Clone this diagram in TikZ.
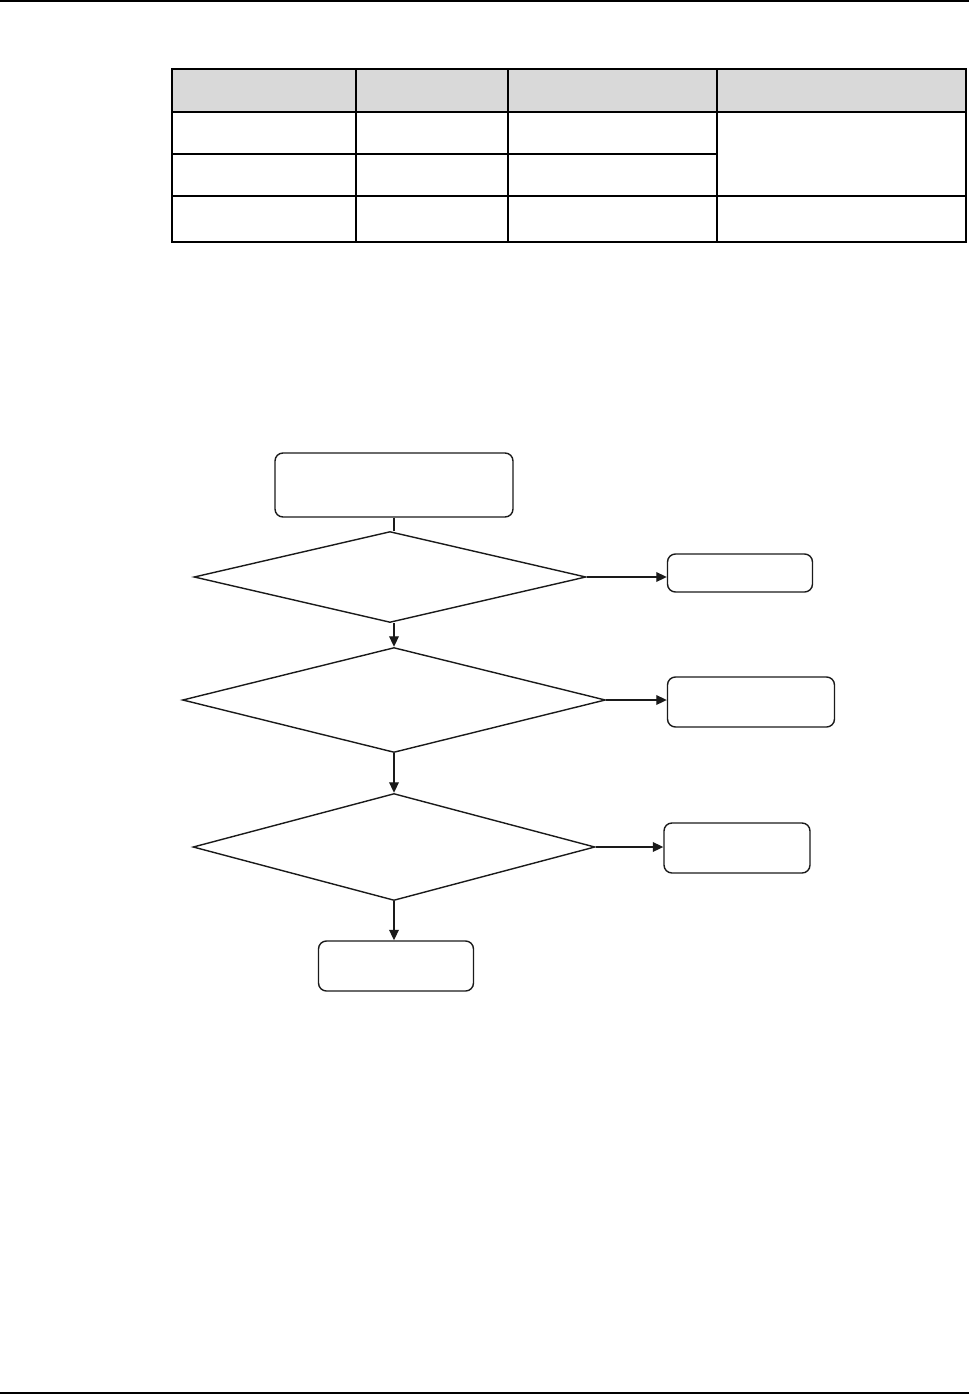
\documentclass[tikz,border=0pt]{standalone}
\usetikzlibrary{positioning, arrows.meta, shapes.geometric}
\definecolor{tblHead}{HTML}{D9D9D9}
\definecolor{flowLine}{HTML}{1A1A1A}

\begin{document}
\begin{tikzpicture}[x=0.02cm, y=-0.02cm, line width=0.8pt,
    stepbox/.style={draw=flowLine, rounded corners=4.5pt, inner sep=0pt},
    checkbox/.style={draw=flowLine, diamond, inner sep=0pt},
    flowarrow/.style={-{Triangle[length=6pt, width=5.5pt]}, flowLine}]
    \useasboundingbox (0,0) rectangle (969,1395);
    % page rules
    \draw[line width=1.2pt] (0,1) -- (969,1);
    \draw[line width=1.2pt] (0,1393) -- (969,1393);
    % table
    \fill[tblHead] (172,69) rectangle (966,112);
    \draw[line width=1pt] (172,112) -- (966,112);
    \draw[line width=1pt] (172,154) -- (717,154);
    \draw[line width=0.6pt] (172,196) -- (966,196);
    \draw[line width=1.1pt] (356,69) -- (356,242);
    \draw[line width=0.7pt] (508,69) -- (508,242);
    \draw[line width=1.1pt] (717,69) -- (717,242);
    \draw[line width=1.6pt] (172,69) rectangle (966,242);
    % flow
    \node[stepbox, minimum width=4.76cm, minimum height=1.28cm] (start) at (394,485) {};
    \node[checkbox, minimum width=7.84cm, minimum height=1.82cm] (d1) at (390,577) {};
    \node[stepbox, minimum width=2.9cm, minimum height=0.76cm] (r1) at (740,573) {};
    \node[checkbox, minimum width=8.46cm, minimum height=2.10cm] (d2) at (394,700) {};
    \node[stepbox, minimum width=3.34cm, minimum height=1.0cm] (r2) at (751,702) {};
    \node[checkbox, minimum width=8.04cm, minimum height=2.14cm] (d3) at (394,847) {};
    \node[stepbox, minimum width=2.92cm, minimum height=1.0cm] (r3) at (737,848) {};
    \node[stepbox, minimum width=3.1cm, minimum height=1.0cm] (stop) at (396,966) {};
    \draw[flowLine] (start.south) -- (start.south |- d1.north);
    \draw[flowarrow] (d1.south -| d2.north) -- (d2.north);
    \draw[flowarrow] (d2.south) -- (d3.north);
    \draw[flowarrow] (d3.south) -- (d3.south |- stop.north);
    \foreach \a/\b in {d1/r1, d2/r2, d3/r3}
      \draw[flowarrow] (\a.east) -- (\a.east -| \b.west);
\end{tikzpicture}
\end{document}
